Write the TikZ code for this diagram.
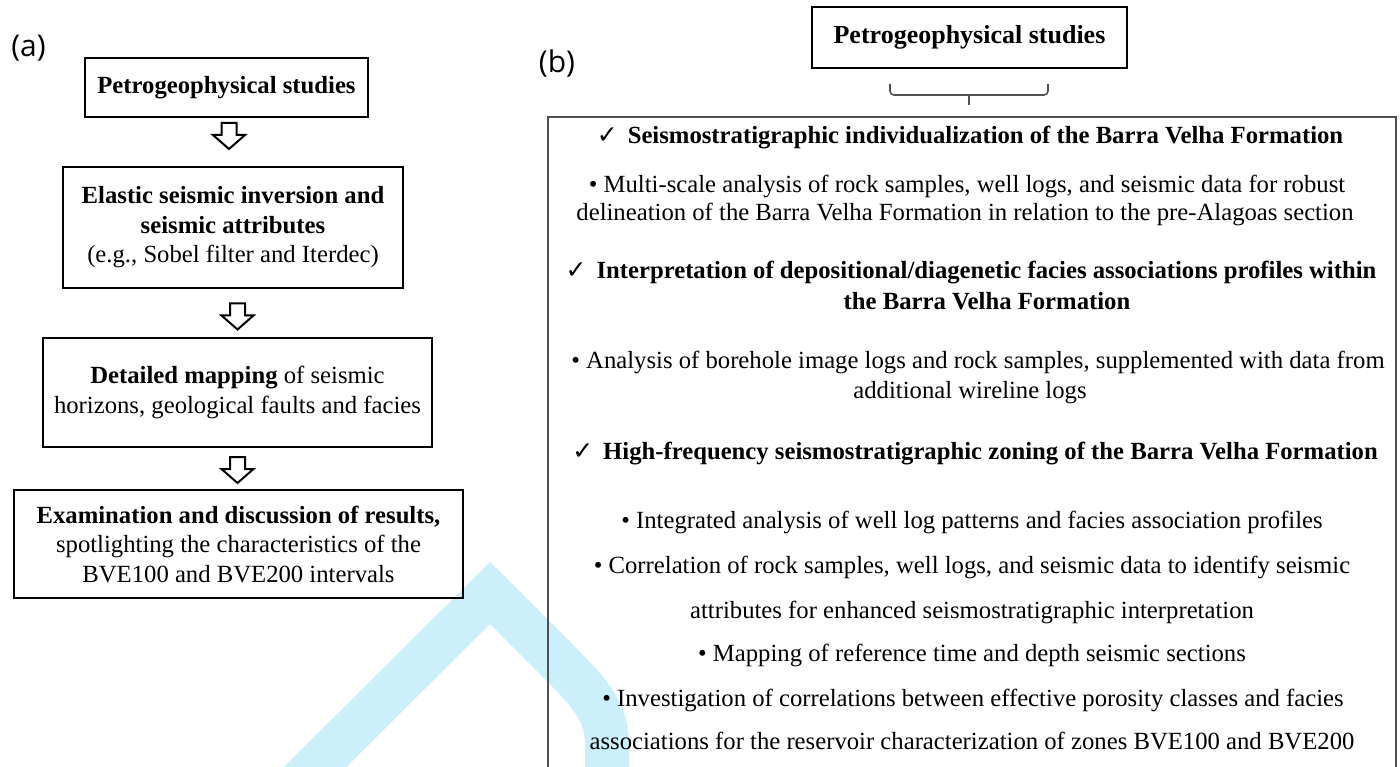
\documentclass[tikz,border=0pt]{standalone}
\usepackage{fontspec}
\setmainfont{Liberation Serif}
\newfontfamily\symf{DejaVu Sans}
\newfontfamily\labf{Open Sans}
\usetikzlibrary{calc}
\definecolor{wmcyan}{RGB}{204,239,252}
\definecolor{bxgray}{RGB}{80,80,80}
\newcommand{\ck}{{\symf\fontsize{25}{25}\selectfont ✓}\hspace{10pt}}
\begin{document}
\begin{tikzpicture}[x=1pt,y=-1pt,
  lbox/.style={draw=black, line width=2.2pt, align=center, inner sep=0pt, font=\fontsize{24.7}{29.5}\selectfont},
  rline/.style={anchor=base, inner sep=0pt, font=\fontsize{24.7}{29.5}\selectfont},
  lab/.style={inner sep=0pt, font=\labf\fontsize{30}{30}\selectfont},
  harrow/.style={draw=black, line width=2pt, line join=miter, fill=white},
  downarrow/.pic={\path[harrow] (-7.5,-13) -- (7.5,-13) -- (7.5,-1) -- (16,-1) -- (0,13) -- (-16,-1) -- (-7.5,-1) -- cycle;},
  bracket/.style={draw=bxgray, line width=1.6pt}
]
\useasboundingbox (0,0) rectangle (1400,767);
\clip (0,0) rectangle (1400,767);
\fill[white] (0,0) rectangle (1400,767);

% light cyan band
\draw[wmcyan, line width=44pt, line join=miter] (270,812) -- (490,593) -- (555,658) .. controls (592,695) and (607,712) .. (607,745) -- (607,800);

% panel labels
\node[lab] (la) at (28.5,48) {(a)};
\node[lab] (lb) at (557,63) {(b)};

% (a) flow
\node[lbox, minimum width=283pt, minimum height=59pt] (a1) at (226.5,87.5) {\textbf{Petrogeophysical studies}};
\node[lbox, minimum width=340pt, minimum height=121pt] (a2) at (233,227.5) {\textbf{Elastic seismic inversion and}\\\textbf{seismic attributes}\\(e.g., Sobel filter and Iterdec)};
\node[lbox, minimum width=389pt, minimum height=109pt] (a3) at (237.5,392.5) {\textbf{Detailed mapping} of seismic\\horizons, geological faults and facies};
\node[lbox, minimum width=449pt, minimum height=108pt] (a4) at (238.5,544) {\textbf{Examination and discussion of results,}\\spotlighting the characteristics of the\\BVE100 and BVE200 intervals};

\pic at (229,136) {downarrow};
\pic at (237.5,316.5) {downarrow};
\pic at (237.5,470) {downarrow};

% (b)
\node[draw=black, line width=2pt, minimum width=315pt, minimum height=61pt, inner sep=0pt, font=\fontsize{26}{30}\selectfont] (b0) at (969.5,37.5) {\textbf{Petrogeophysical studies}};
\node[draw=bxgray, line width=1.6pt, minimum width=848pt, minimum height=684pt, inner sep=0pt, anchor=north west] (bb) at (547,116) {};

\coordinate (brl) at (890,84);
\coordinate (brr) at (1048,84);
\coordinate (brm) at (969,95);
\coordinate (brt) at (969,105);
\draw[bracket, rounded corners=4pt] (brl) |- (brm) -| (brr);
\draw[bracket] (brm) -- (brt);

\node[rline] (r1) at (970,144) {\ck\textbf{Seismostratigraphic individualization of the Barra Velha Formation}};
\node[rline] (r2) at (967,193) {• Multi-scale analysis of rock samples, well logs, and seismic data for robust};
\node[rline] (r3) at (965,221) {delineation of the Barra Velha Formation in relation to the pre-Alagoas section};
\node[rline] (r4) at (971,279) {\ck\textbf{Interpretation of depositional/diagenetic facies associations profiles within}};
\node[rline] (r5) at (987,309) {\textbf{the Barra Velha Formation}};
\node[rline] (r6) at (978,368) {• Analysis of borehole image logs and rock samples, supplemented with data from};
\node[rline] (r7) at (970,398) {additional wireline logs};
\node[rline] (r8) at (975,459) {\ck\textbf{High-frequency seismostratigraphic zoning of the Barra Velha Formation}};
\node[rline] (r9) at (972,528) {• Integrated analysis of well log patterns and facies association profiles};
\node[rline] (r10) at (972,573) {• Correlation of rock samples, well logs, and seismic data to identify seismic};
\node[rline] (r11) at (972,618) {attributes for enhanced seismostratigraphic interpretation};
\node[rline] (r12) at (972,661) {• Mapping of reference time and depth seismic sections};
\node[rline] (r13) at (973,706) {• Investigation of correlations between effective porosity classes and facies};
\node[rline] (r14) at (972,749) {associations for the reservoir characterization of zones BVE100 and BVE200};
\end{tikzpicture}
\end{document}
